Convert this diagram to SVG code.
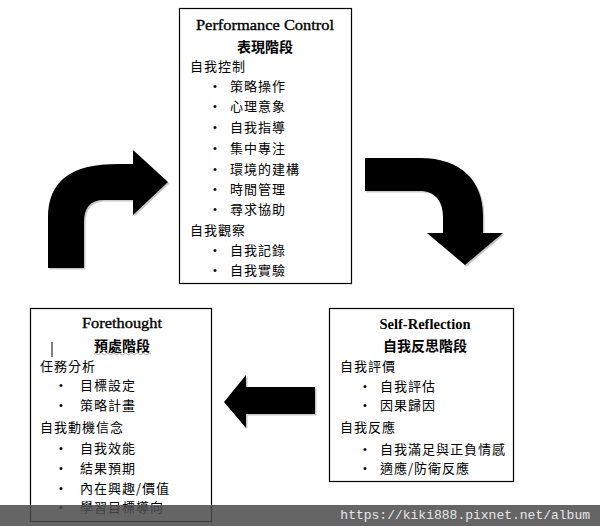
<svg xmlns="http://www.w3.org/2000/svg" width="600" height="526" viewBox="0 0 600 526">
<style>
.box{fill:#fff;stroke:#000;stroke-width:1.2}
.lat{font-family:"Liberation Serif",serif;font-size:15px;fill:#000;stroke:#000;stroke-width:0.35}
.latb{font-family:"Liberation Serif",serif;font-size:14px;font-weight:bold;fill:#000}
.ttl{font-family:"Noto Sans CJK TC","Noto Sans CJK SC",sans-serif;font-size:14px;font-weight:bold;fill:#000;text-anchor:middle}
.cjk{font-family:"Noto Sans CJK TC","Noto Sans CJK SC",sans-serif;font-size:13px;letter-spacing:1px;fill:#000}
.bul{font-family:"Liberation Sans",sans-serif;font-size:11px;fill:#000;text-anchor:middle}
.arrow{fill:#000}
.shadow{fill:#c8c8c8}
</style>
<rect width="600" height="526" fill="#fff"/>

<g id="connectors">
  <path class="shadow" transform="translate(1.5,1.5)" d="M48 268 L48 218 C48 180 72 164 118 164 L133 164 L133 150 L168 182 L133 215 L133 200 L104 200 C90 200 84 208 84 222 L84 268 Z"/>
  <path class="arrow" d="M48 268 L48 218 C48 180 72 164 118 164 L133 164 L133 150 L168 182 L133 215 L133 200 L104 200 C90 200 84 208 84 222 L84 268 Z"/>
  <path class="shadow" transform="translate(1.5,1.5)" d="M365 158 L420 158 C462 158 483 182 483 215 L483 233 L503 233 L465 265 L427 233 L443 233 L443 217 C443 201 435 191 420 191 L365 191 Z"/>
  <path class="arrow" d="M365 158 L420 158 C462 158 483 182 483 215 L483 233 L503 233 L465 265 L427 233 L443 233 L443 217 C443 201 435 191 420 191 L365 191 Z"/>
  <path class="shadow" transform="translate(1.5,1.5)" d="M224 402 L246 375 L246 387 L315 387 L315 414 L246 414 L246 428 Z"/>
  <path class="arrow" d="M224 402 L246 375 L246 387 L315 387 L315 414 L246 414 L246 428 Z"/>
</g>

<g id="performance">
  <rect class="box" x="179.5" y="8.5" width="172" height="275"/>
  <text class="lat" x="265" y="30" text-anchor="middle" textLength="138" lengthAdjust="spacingAndGlyphs">Performance Control</text>
  <text class="ttl" x="265" y="52">表現階段</text>
  <text class="cjk" x="190" y="71">自我控制</text>
  <g>
    <text class="bul" x="215" y="90">•</text><text class="cjk" x="230" y="91">策略操作</text>
    <text class="bul" x="215" y="110">•</text><text class="cjk" x="230" y="111">心理意象</text>
    <text class="bul" x="215" y="131">•</text><text class="cjk" x="230" y="132">自我指導</text>
    <text class="bul" x="215" y="152">•</text><text class="cjk" x="230" y="153">集中專注</text>
    <text class="bul" x="215" y="173">•</text><text class="cjk" x="230" y="174">環境的建構</text>
    <text class="bul" x="215" y="193">•</text><text class="cjk" x="230" y="194">時間管理</text>
    <text class="bul" x="215" y="213">•</text><text class="cjk" x="230" y="214">尋求協助</text>
  </g>
  <text class="cjk" x="190" y="235">自我觀察</text>
  <text class="bul" x="215" y="254">•</text><text class="cjk" x="230" y="255">自我記錄</text>
  <text class="bul" x="215" y="274">•</text><text class="cjk" x="230" y="275">自我實驗</text>
</g>

<g id="self-reflection">
  <rect class="box" x="329.5" y="308.5" width="184" height="173"/>
  <text class="latb" x="425" y="329" text-anchor="middle" textLength="91" lengthAdjust="spacingAndGlyphs">Self-Reflection</text>
  <text class="ttl" x="425" y="351">自我反思階段</text>
  <text class="cjk" x="340" y="371">自我評價</text>
  <text class="bul" x="365" y="390">•</text><text class="cjk" x="380" y="391">自我評估</text>
  <text class="bul" x="365" y="409">•</text><text class="cjk" x="380" y="410">因果歸因</text>
  <text class="cjk" x="340" y="432">自我反應</text>
  <text class="bul" x="365" y="453">•</text><text class="cjk" x="380" y="454">自我滿足與正負情感</text>
  <text class="bul" x="365" y="472">•</text><text class="cjk" x="380" y="473">適應/防衛反應</text>
</g>

<g id="forethought">
  <rect class="box" x="30.5" y="308.5" width="181" height="213"/>
  <text class="lat" x="122" y="328" text-anchor="middle" textLength="80" lengthAdjust="spacingAndGlyphs">Forethought</text>
  <text class="ttl" x="122" y="351">預處階段</text>
  <path d="M94 354 q1.5 -1.5 3 0 t3 0 t3 0 t3 0 t3 0 t3 0 t3 0 t3 0 t3 0 t3 0 t3 0 t3 0 t3 0 t3 0 t3 0 t3 0 t3 0 t3 0 t3 0" fill="none" stroke="#999" stroke-width="0.8"/>
  <line x1="52" y1="342" x2="52" y2="357" stroke="#000" stroke-width="1"/>
  <text class="cjk" x="40" y="371">任務分析</text>
  <text class="bul" x="61" y="389">•</text><text class="cjk" x="80" y="390">目標設定</text>
  <text class="bul" x="61" y="409">•</text><text class="cjk" x="80" y="410">策略計畫</text>
  <text class="cjk" x="40" y="432">自我動機信念</text>
  <text class="bul" x="61" y="452">•</text><text class="cjk" x="80" y="453">自我效能</text>
  <text class="bul" x="61" y="472">•</text><text class="cjk" x="80" y="473">結果預期</text>
  <text class="bul" x="61" y="492">•</text><text class="cjk" x="80" y="493">內在興趣/價值</text>
  <text class="bul" x="61" y="511">•</text><text class="cjk" x="80" y="512">學習目標導向</text>
</g>

<g id="watermark">
  <rect x="0" y="505" width="600" height="21" fill="#4a4a4a" fill-opacity="0.85"/>
  <text x="590" y="519" text-anchor="end" font-family="Liberation Mono, monospace" font-size="13" fill="#e6e6e6">https://kiki888.pixnet.net/album</text>
</g>
</svg>
